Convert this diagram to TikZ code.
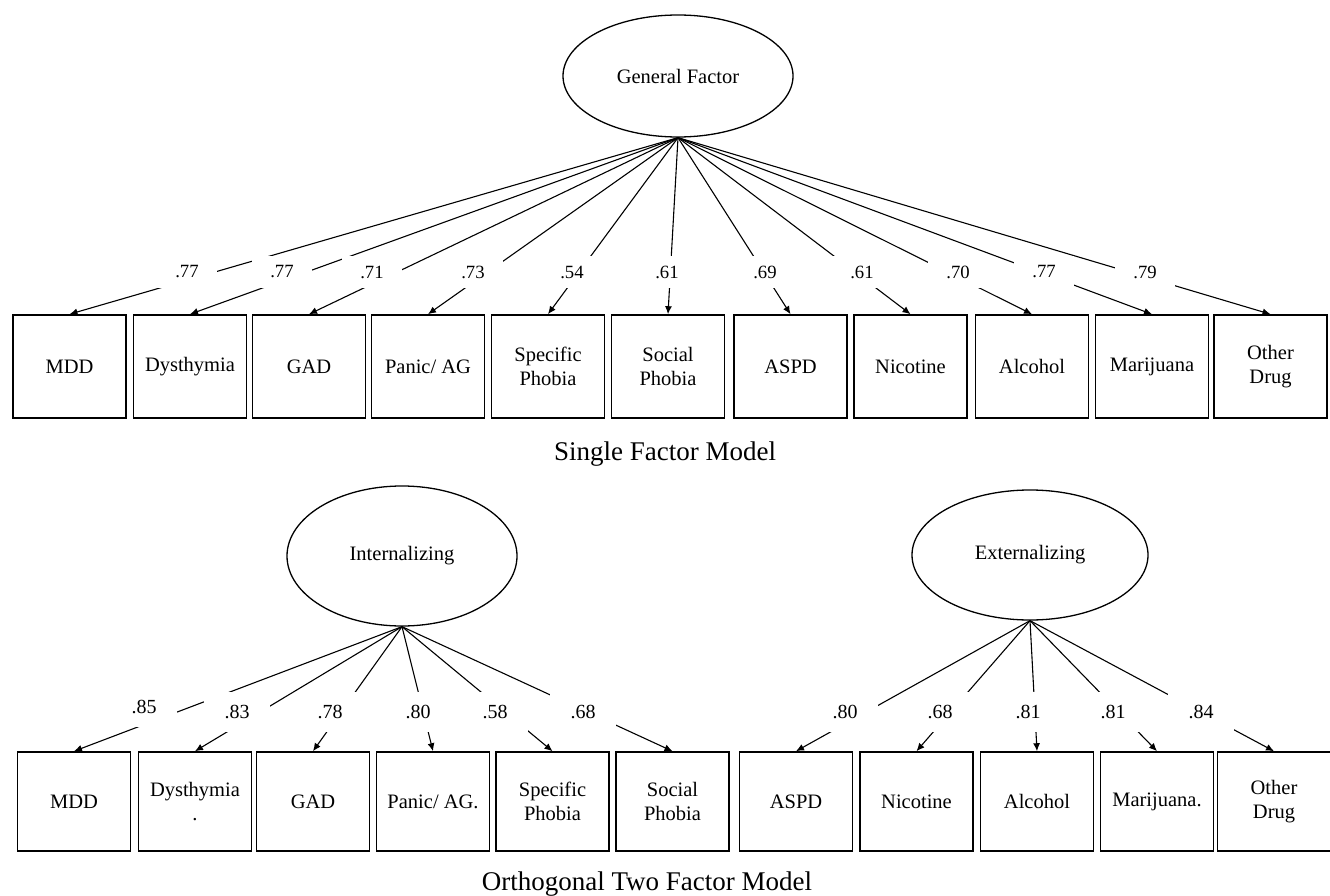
\documentclass[tikz,border=0pt]{standalone}
\usepackage{fontspec}
\setmainfont{Liberation Serif}
\usetikzlibrary{shapes.geometric,arrows.meta}
\begin{document}
\begin{tikzpicture}[x=1pt,y=-1pt,
  obs/.style={draw,line width=1.6pt,minimum width=113pt,minimum height=103pt,inner sep=0pt,align=center,font=\fontsize{20.5}{24.5}\selectfont},
  obsb/.style={obs,minimum height=99pt},
  lat/.style={draw,ellipse,line width=1.3pt,inner sep=0pt,font=\fontsize{20.5}{24.5}\selectfont},
  conn/.style={line width=1.1pt,-{Latex[length=8pt,width=7pt]}},
  lab/.style={fill=white,inner sep=0pt,minimum width=60pt,minimum height=32pt,font=\fontsize{18.7}{22}\selectfont},
  labb/.style={lab,minimum width=66pt,minimum height=40pt,font=\fontsize{20}{24}\selectfont},
  ttl/.style={anchor=base,font=\fontsize{27}{32}\selectfont}]
\useasboundingbox (0,0) rectangle (1330,896);
% ---------- single factor model ----------
\node[lat,minimum width=230pt,minimum height=122pt] (gen) at (678,76) {General Factor};
\node[obs] (t1) at (69.5,366.5) {MDD};
\node[obs] (t2) at (190,366.5) {Dysthymia};
\node[obs] (t3) at (309,366.5) {GAD};
\node[obs] (t4) at (428,366.5) {Panic/ AG};
\node[obs] (t5) at (548,366.5) {Specific\\Phobia};
\node[obs] (t6) at (668,366.5) {Social\\Phobia};
\node[obs] (t7) at (790.5,366.5) {ASPD};
\node[obs] (t8) at (910.5,366.5) {Nicotine};
\node[obs] (t9) at (1032,366.5) {Alcohol};
\node[obs] (t10) at (1152,366.5) {Marijuana};
\node[obs] (t11) at (1270.5,366.5) {Other\\Drug};
\foreach \i in {1,...,11} \draw[conn] (gen.south) -- (t\i.north);
\node[lab] (tl1) at (187,272) {.77};
\node[lab] (tl2) at (282,272) {.77};
\node[lab] (tl3) at (372,272) {.71};
\node[lab] (tl4) at (473,272) {.73};
\node[lab] (tl5) at (572,272) {.54};
\node[lab] (tl6) at (667,272) {.61};
\node[lab] (tl7) at (765,272) {.69};
\node[lab] (tl8) at (862,272) {.61};
\node[lab] (tl9) at (958,272) {.70};
\node[lab] (tl10) at (1044,272) {.77};
\node[lab] (tl11) at (1145,272) {.79};
\node[ttl] (title1) at (665,460) {Single Factor Model};
% ---------- orthogonal two factor model ----------
\node[lat,minimum width=230pt,minimum height=140pt] (int) at (402,556) {Internalizing};
\node[lat,minimum width=236pt,minimum height=130pt] (ext) at (1030,555) {Externalizing};
\node[obsb] (b1) at (74,801.5) {MDD};
\node[obsb] (b2) at (195,801.5) {Dysthymia\\.};
\node[obsb] (b3) at (313,801.5) {GAD};
\node[obsb] (b4) at (433,801.5) {Panic/ AG.};
\node[obsb] (b5) at (552.5,801.5) {Specific\\Phobia};
\node[obsb] (b6) at (672.5,801.5) {Social\\Phobia};
\node[obsb] (b7) at (796,801.5) {ASPD};
\node[obsb] (b8) at (916.5,801.5) {Nicotine};
\node[obsb] (b9) at (1037,801.5) {Alcohol};
\node[obsb] (b10) at (1157,801.5) {Marijuana.};
\node[obsb] (b11) at (1274,801.5) {Other\\Drug};
\foreach \i in {1,...,6} \draw[conn] (int.south) -- (b\i.north);
\foreach \i in {7,...,11} \draw[conn] (ext.south) -- (b\i.north);
\node[labb] (bl1) at (144,707) {.85};
\node[labb] (bl2) at (237,712) {.83};
\node[labb] (bl3) at (330,712) {.78};
\node[labb] (bl4) at (418,712) {.80};
\node[labb] (bl5) at (495,712) {.58};
\node[labb] (bl6) at (583,712) {.68};
\node[labb] (bl7) at (845,712) {.80};
\node[labb] (bl8) at (940,712) {.68};
\node[labb] (bl9) at (1028,712) {.81};
\node[labb] (bl10) at (1113,712) {.81};
\node[labb] (bl11) at (1201,712) {.84};
\node[ttl] (title2) at (647,890) {Orthogonal Two Factor Model};
\end{tikzpicture}
\end{document}
